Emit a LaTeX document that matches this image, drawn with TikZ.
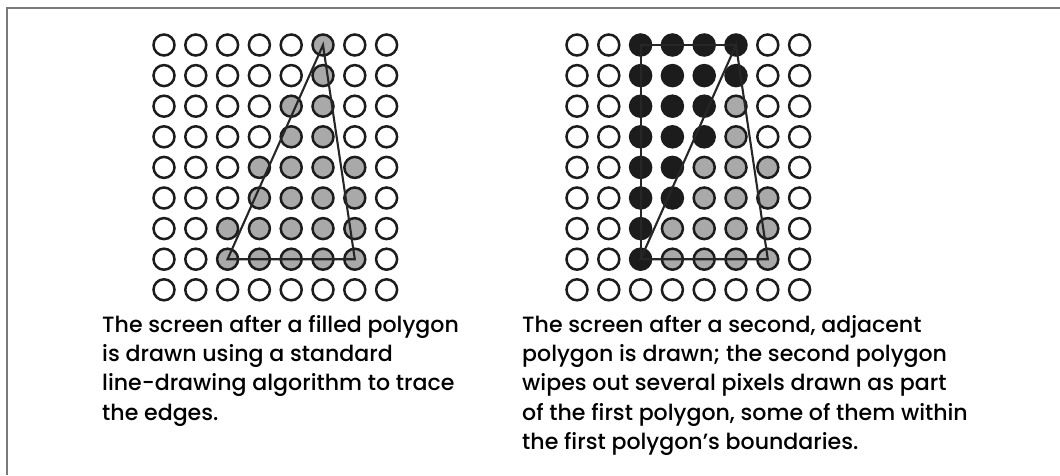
\documentclass[tikz,border=0pt]{standalone}
\usepackage{fontspec}
\setmainfont{Poppins Medium}
\usepackage{tikz}
\usetikzlibrary{positioning}
\usepackage{xcolor}
\definecolor{PixGrey}{HTML}{A9A9A9}
\definecolor{PixBlack}{HTML}{1C1C1C}
\definecolor{EdgeInk}{HTML}{262626}
\definecolor{FrameGrey}{HTML}{7A7A7A}

\begin{document}
\begin{tikzpicture}[x=1pt,y=1pt,
    pix/.style={circle,draw=PixBlack,line width=2.5pt,minimum size=21pt,inner sep=0pt},
    pixo/.style={pix,fill=white},
    pixg/.style={pix,fill=PixGrey},
    pixb/.style={pix,fill=PixBlack},
    edge/.style={draw=EdgeInk,line width=2.1pt,line join=miter},
    caption/.style={anchor=north west,align=left,inner sep=0pt,font=\fontsize{22.1}{29.3}\selectfont}]
  \useasboundingbox (0,0) rectangle (1060,475);
  \draw[FrameGrey,line width=1.6pt] (7,0) |- (1060,467);

  % first screen: one filled polygon
  \foreach \row [count=\r from 0] in {{o,o,o,o,o,g,o,o},{o,o,o,o,o,g,o,o},{o,o,o,o,g,g,o,o},
      {o,o,o,o,g,g,o,o},{o,o,o,g,g,g,g,o},{o,o,o,g,g,g,g,o},{o,o,g,g,g,g,g,o},
      {o,o,g,g,g,g,g,o},{o,o,o,o,o,o,o,o}}
    \foreach \s [count=\c from 0] in \row
      \node[pix\s] (L-\c-\r) at (164+31.8*\c,430-30.6*\r) {};
  \draw[edge] (L-5-0.center) -- (L-2-7.center) -- (L-6-7.center) -- cycle;

  % second screen: the adjacent polygon drawn over it
  \foreach \row [count=\r from 0] in {{o,o,b,b,b,b,o,o},{o,o,b,b,b,b,o,o},{o,o,b,b,b,g,o,o},
      {o,o,b,b,b,g,o,o},{o,o,b,b,g,g,g,o},{o,o,b,b,g,g,g,o},{o,o,b,g,g,g,g,o},
      {o,o,b,g,g,g,g,o},{o,o,o,o,o,o,o,o}}
    \foreach \s [count=\c from 0] in \row
      \node[pix\s] (R-\c-\r) at (577+31.8*\c,430-30.6*\r) {};
  \draw[edge] (R-5-0.center) -- (R-2-7.center) -- (R-6-7.center) -- cycle;
  \draw[edge] (R-5-0.center) -- (R-2-0.center) -- (R-2-7.center);

  \node[caption] (capL) at (102,160) {The screen after a filled polygon\\
    is drawn using a standard\\ line-drawing algorithm to trace\\ the edges.};
  \node[caption] (capR) at (522,160) {The screen after a second, adjacent\\
    polygon is drawn; the second polygon\\ wipes out several pixels drawn as part\\
    of the first polygon, some of them within\\ the first polygon’s boundaries.};
\end{tikzpicture}
\end{document}
